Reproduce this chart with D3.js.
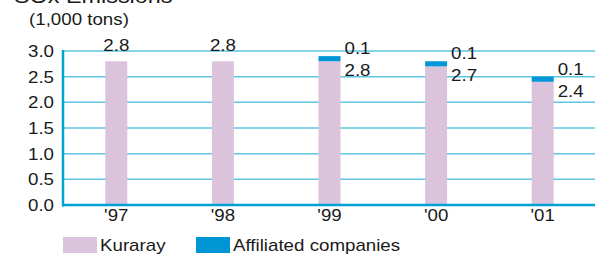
<!DOCTYPE html>
<html lang="en">
<head>
  <meta charset="UTF-8" />
  <title>SOx Emissions</title>
  <script src="https://d3js.org/d3.v7.min.js"></script>
  <style>
    body {
      margin: 0;
      background: #fff;
      font-family: "Liberation Sans", Arial, sans-serif;
    }
    text {
      fill: #1a1a1a;
      font-size: 16px;
    }
  </style>
</head>
<body>
  <svg width="595" height="254" id="chart"></svg>

  <script>
    const years = ["'97", "'98", "'99", "'00", "'01"];
    const kuraray = [2.8, 2.8, 2.8, 2.7, 2.4];
    const affiliated = [0, 0, 0.1, 0.1, 0.1];
    const yTicks = [0, 0.5, 1.0, 1.5, 2.0, 2.5, 3.0];

    const svg = d3.select("#chart");
    const mLeft = 63, mRight = 596, mTop = 51, mBottom = 205;
    const sx = 1.17; // text in the original is a bit wide

    const x = d3.scaleBand().domain(years).range([mLeft, mRight]);
    const y = d3.scaleLinear().domain([0, 3]).range([mBottom, mTop]);
    const barW = 22;

    // put a text at (tx, ty), stretched horizontally
    function label(parent, tx, ty, str, anchor) {
      return parent.append("text")
        .attr("transform", `translate(${tx},${ty}) scale(${sx},1)`)
        .attr("text-anchor", anchor || "start")
        .text(str);
    }

    // title (cut off at top in the original)
    label(svg, 14, 3, "SOx Emissions").style("font-size", "20px");
    label(svg, 29, 25, "(1,000 tons)");

    // gridlines
    svg.append("g")
      .selectAll("line")
      .data(yTicks.slice(1))
      .join("line")
      .attr("x1", mLeft).attr("x2", mRight)
      .attr("y1", d => y(d)).attr("y2", d => y(d))
      .attr("stroke", "#5ec6e3")
      .attr("stroke-width", 1.5);

    // y tick labels
    const yl = svg.append("g");
    yTicks.forEach(d => label(yl, 54, y(d) + 6, d.toFixed(1), "end"));

    // bars
    const g = svg.append("g");
    g.selectAll(".k")
      .data(years)
      .join("rect")
      .attr("x", d => x(d) + x.bandwidth() / 2 - barW / 2)
      .attr("width", barW)
      .attr("y", (d, i) => y(kuraray[i]))
      .attr("height", (d, i) => y(0) - y(kuraray[i]))
      .attr("fill", "#dbc3dc");

    g.selectAll(".a")
      .data(years)
      .join("rect")
      .attr("x", d => x(d) + x.bandwidth() / 2 - barW / 2)
      .attr("width", barW)
      .attr("y", (d, i) => y(kuraray[i] + affiliated[i]))
      .attr("height", (d, i) => y(kuraray[i]) - y(kuraray[i] + affiliated[i]))
      .attr("fill", "#0096d6");

    // axes lines
    svg.append("line")
      .attr("x1", mLeft).attr("x2", mLeft)
      .attr("y1", mTop - 1).attr("y2", mBottom + 1.5)
      .attr("stroke", "#00a3d4").attr("stroke-width", 2.5);
    svg.append("line")
      .attr("x1", mLeft - 1).attr("x2", mRight)
      .attr("y1", mBottom).attr("y2", mBottom)
      .attr("stroke", "#00a3d4").attr("stroke-width", 2.5);

    // value labels
    const vl = svg.append("g");
    years.forEach((d, i) => {
      const cx = x(d) + x.bandwidth() / 2;
      if (affiliated[i] === 0) {
        label(vl, cx, y(kuraray[i]) - 10, kuraray[i].toFixed(1), "middle");
      } else {
        const tot = y(kuraray[i] + affiliated[i]);
        label(vl, cx + barW / 2 + 4, tot - 2, affiliated[i].toFixed(1));
        label(vl, cx + barW / 2 + 4, tot + 20, kuraray[i].toFixed(1));
      }
    });

    // x tick labels
    const xl = svg.append("g");
    years.forEach(d => label(xl, x(d) + x.bandwidth() / 2, 221, d, "middle"));

    // legend
    const legend = [
      { name: "Kuraray", color: "#dbc3dc", x: 63 },
      { name: "Affiliated companies", color: "#0096d6", x: 196 }
    ];
    const lg = svg.append("g");
    legend.forEach(d => {
      lg.append("rect")
        .attr("x", d.x).attr("y", 237)
        .attr("width", 34).attr("height", 16)
        .attr("fill", d.color);
      label(lg, d.x + 37, 251, d.name);
    });
  </script>
</body>
</html>
